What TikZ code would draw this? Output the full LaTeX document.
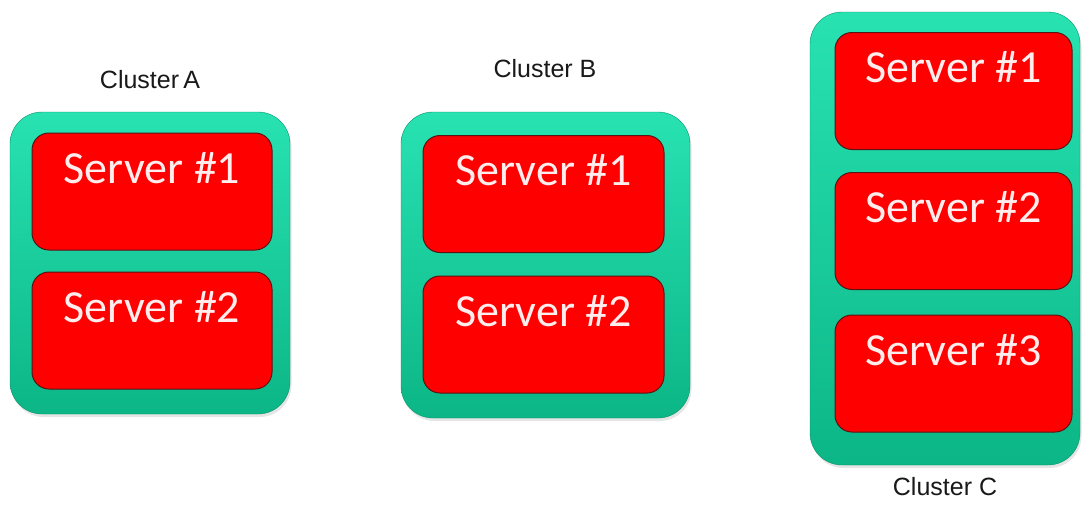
\documentclass[tikz,border=0pt]{standalone}
\usepackage{fontspec}
\setmainfont{Liberation Sans}
\newfontfamily\serverfont{Carlito}
\usetikzlibrary{shadows}
\definecolor{grtop}{RGB}{40,226,178}
\definecolor{grbot}{RGB}{12,182,134}
\definecolor{srvred}{RGB}{255,0,0}
\definecolor{srvedge}{RGB}{90,20,20}
\definecolor{srvtext}{RGB}{255,236,236}
\definecolor{lbl}{RGB}{25,25,25}
\tikzset{
  clusterbox/.style={rectangle, rounded corners=32pt, top color=grtop, bottom color=grbot,
    draw=grbot!80!black, line width=0.4pt, inner sep=0pt,
    drop shadow={opacity=0.2, shadow xshift=1.5pt, shadow yshift=-3pt}},
  serverbox/.style={rectangle, rounded corners=17pt, fill=srvred, draw=srvedge, line width=1pt,
    inner sep=0pt, text=srvtext, font=\serverfont\fontsize{46}{46}\selectfont,
    text height=50pt, text depth=67pt},
  clusterlabel/.style={font=\fontsize{25}{25}\selectfont, text=lbl, inner sep=0pt}
}
\begin{document}
\begin{tikzpicture}[x=1pt,y=-1pt]
\useasboundingbox[fill=white] (0,0) rectangle (1083,525);
% Cluster A
\node[clusterbox, minimum width=280pt, minimum height=302pt] (ca) at (150,263) {};
\node[serverbox, minimum width=240pt] (a1) at (152,191.5) {Server \#1};
\node[serverbox, minimum width=240pt] (a2) at (152,330.5) {Server \#2};
\node[clusterlabel] (la) at (150,80) {Cluster\,A};
% Cluster B
\node[clusterbox, minimum width=289pt, minimum height=306pt] (cb) at (545.5,265) {};
\node[serverbox, minimum width=241pt] (b1) at (543.5,194) {Server \#1};
\node[serverbox, minimum width=241pt] (b2) at (543.5,334.5) {Server \#2};
\node[clusterlabel] (lb) at (545,69) {Cluster B};
% Cluster C
\node[clusterbox, minimum width=270pt, minimum height=453pt] (cc) at (945,238.5) {};
\node[serverbox, minimum width=237pt] (c1) at (953.5,91) {Server \#1};
\node[serverbox, minimum width=237pt] (c2) at (953.5,231) {Server \#2};
\node[serverbox, minimum width=237pt] (c3) at (953.5,373.5) {Server \#3};
\node[clusterlabel] (lc) at (945,487) {Cluster C};
\end{tikzpicture}
\end{document}
